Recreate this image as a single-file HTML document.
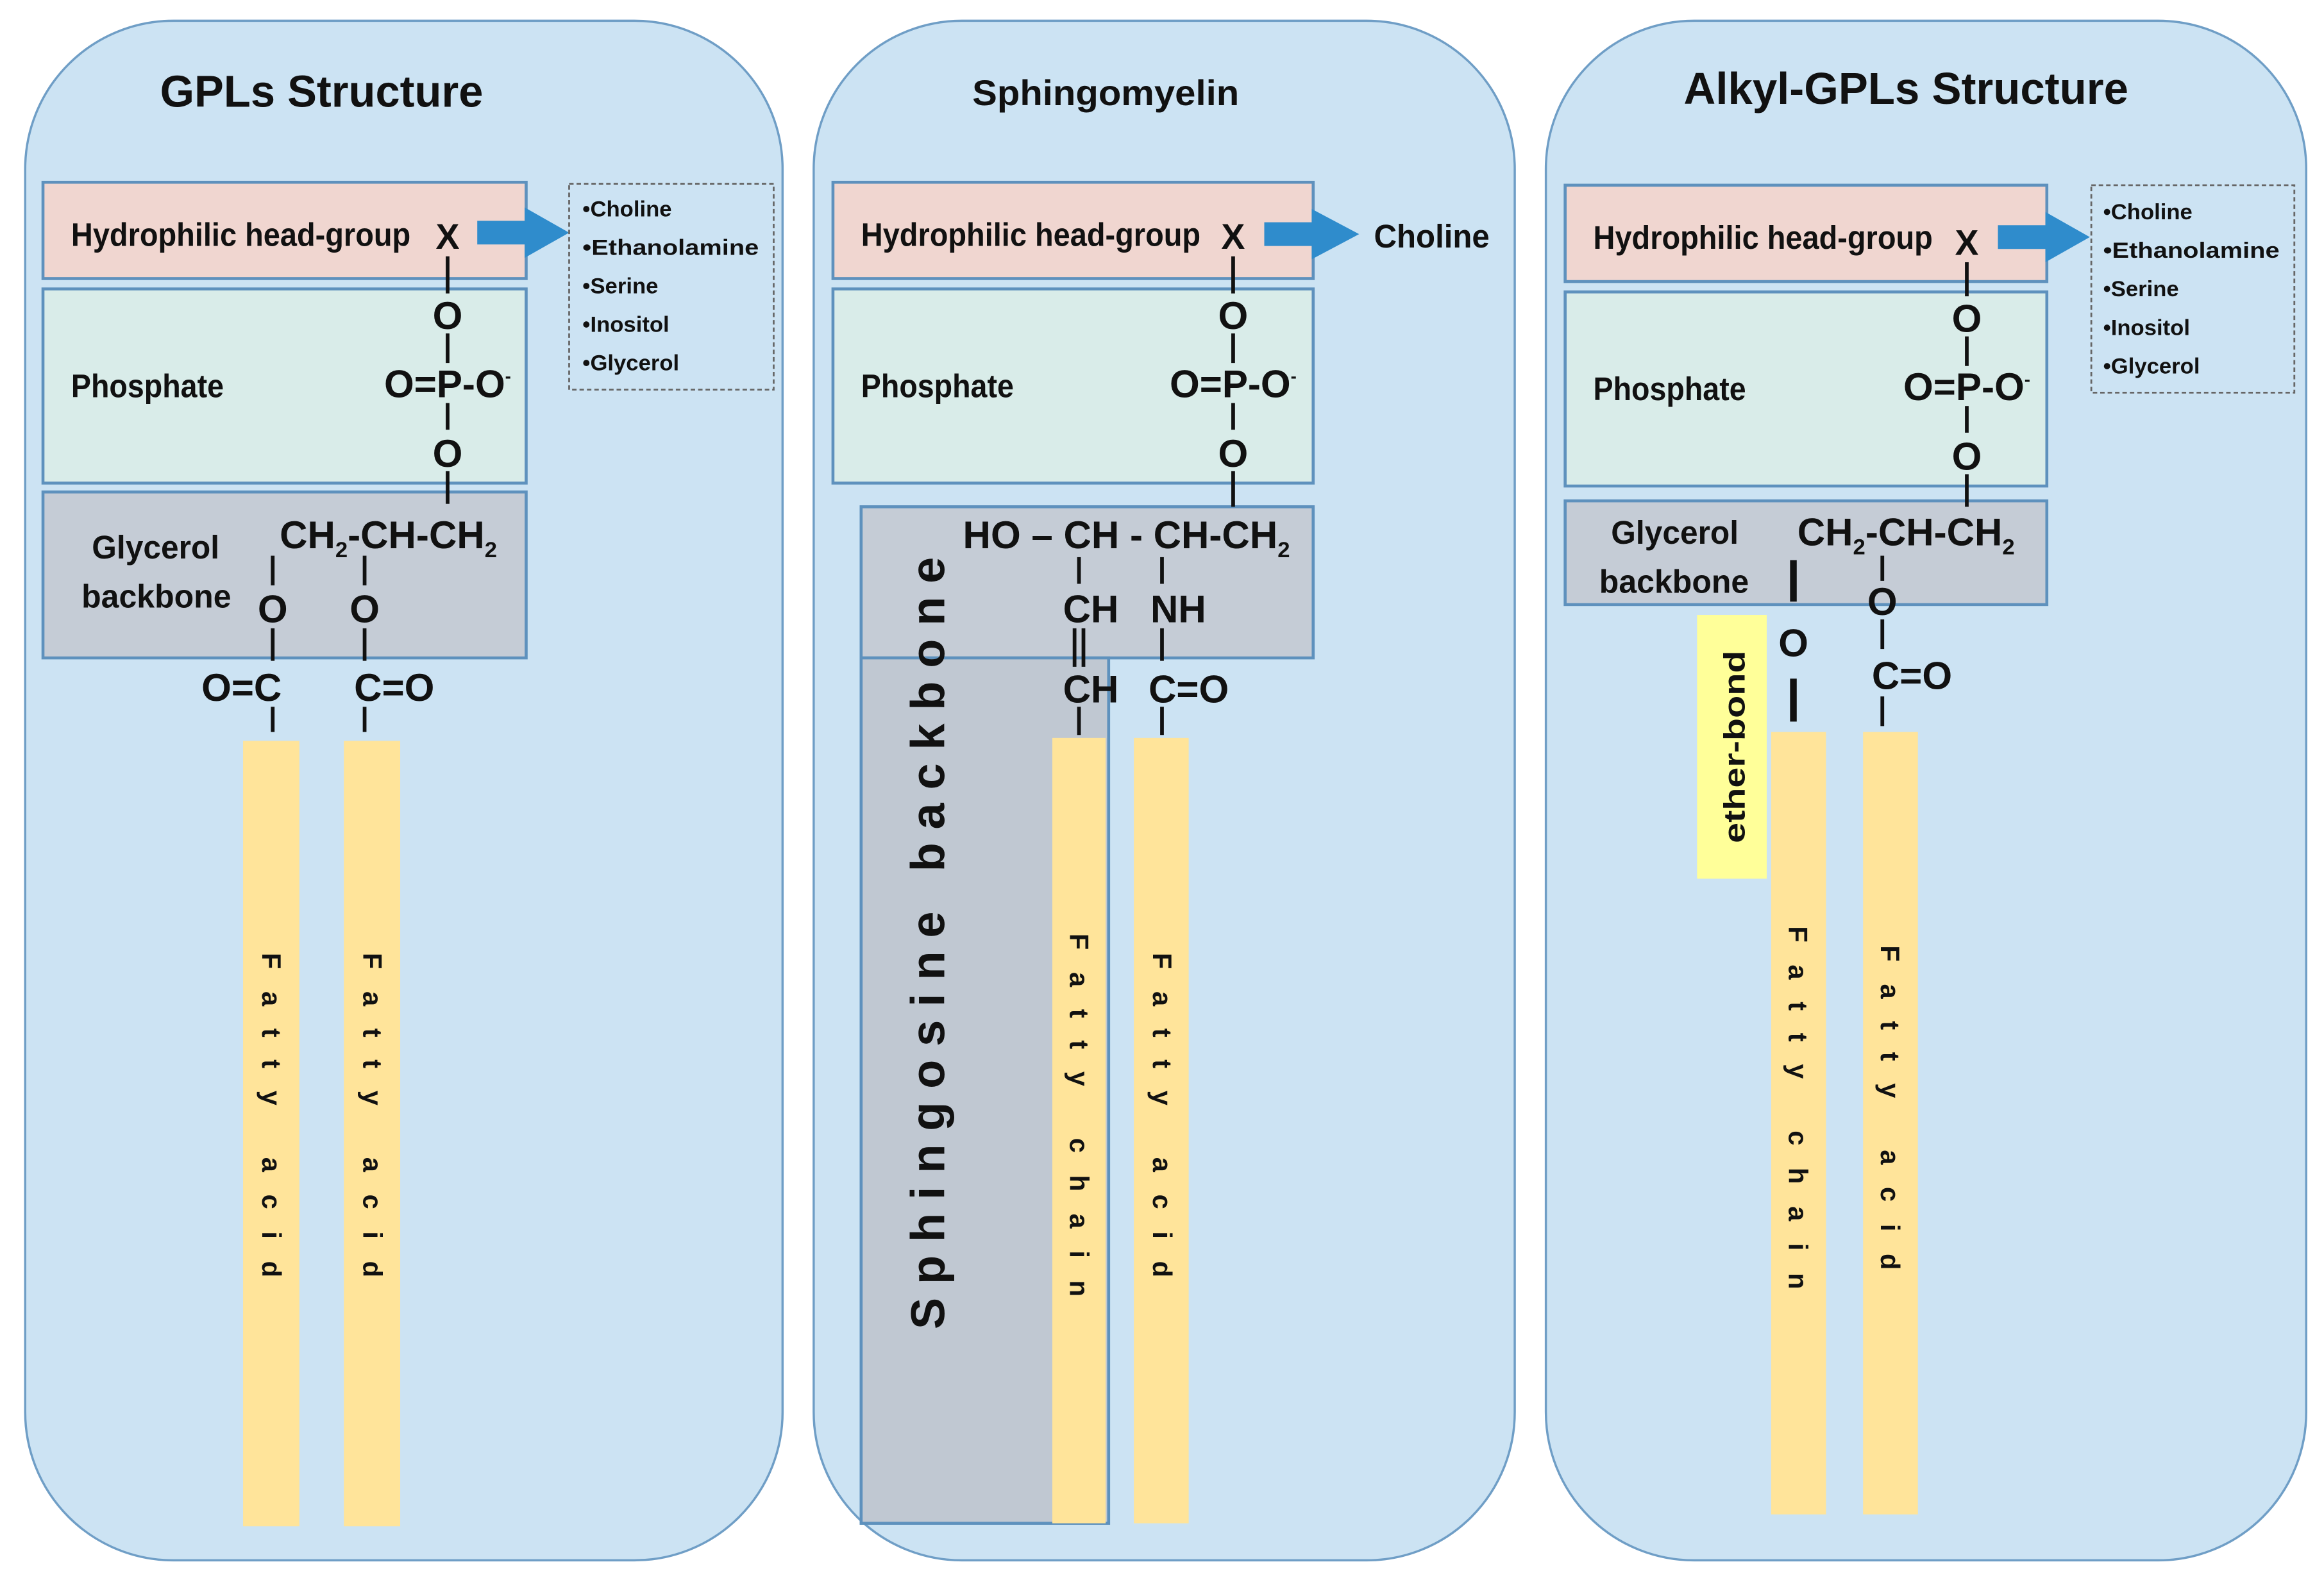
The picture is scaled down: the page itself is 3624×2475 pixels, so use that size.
<!DOCTYPE html>
<html><head><meta charset="utf-8"><style>
html,body{margin:0;padding:0;background:#fff;}
svg{display:block}
text{font-family:"Liberation Sans",sans-serif;font-weight:bold;fill:#111}
.c{font-family:"Liberation Sans",sans-serif;font-weight:bold}
</style></head><body>
<svg width="3624" height="2475" viewBox="0 0 1568 1071" preserveAspectRatio="none" xmlns="http://www.w3.org/2000/svg">
<rect width="1568" height="1071" fill="#fff"/>
<rect x="17" y="14" width="511" height="1039" rx="100" fill="#cce3f3" stroke="#6f9ec6" stroke-width="1.5"/>
<rect x="549" y="14" width="473" height="1039" rx="100" fill="#cce3f3" stroke="#6f9ec6" stroke-width="1.5"/>
<rect x="1043" y="14" width="513" height="1039" rx="100" fill="#cce3f3" stroke="#6f9ec6" stroke-width="1.5"/>

<!-- PANEL 1 -->
<text x="108" y="72" font-size="30" textLength="218" lengthAdjust="spacingAndGlyphs">GPLs Structure</text>
<rect x="29" y="123" width="326" height="65" fill="#f0d6d0" stroke="#5e91bd" stroke-width="2"/>
<text x="48" y="166" font-size="22" textLength="229" lengthAdjust="spacingAndGlyphs">Hydrophilic head-group</text>
<text x="302" y="168" font-size="24" text-anchor="middle">X</text>
<rect x="29" y="195" width="326" height="131" fill="#d9ece9" stroke="#5e91bd" stroke-width="2"/>
<text x="48" y="268" font-size="22" textLength="103" lengthAdjust="spacingAndGlyphs">Phosphate</text>
<rect x="29" y="332" width="326" height="112" fill="#c5ccd6" stroke="#5e91bd" stroke-width="2"/>
<text x="62" y="377" font-size="22" textLength="86" lengthAdjust="spacingAndGlyphs">Glycerol</text>
<text x="55" y="410" font-size="22" textLength="101" lengthAdjust="spacingAndGlyphs">backbone</text>
<polygon points="322,149 354,149 354,140 384,157 354,174 354,165 322,165" fill="#2f8ccc"/>
<rect x="384" y="124" width="138" height="139" fill="none" stroke="#666" stroke-width="1.2" stroke-dasharray="3,2"/>
<g font-size="15"><text x="393" y="146">•Choline</text><text x="393" y="172" textLength="119" lengthAdjust="spacingAndGlyphs">•Ethanolamine</text><text x="393" y="198">•Serine</text><text x="393" y="224">•Inositol</text><text x="393" y="250">•Glycerol</text></g>
<g stroke="#111" stroke-width="2.5">
<line x1="302" y1="173" x2="302" y2="198"/><line x1="302" y1="225" x2="302" y2="245"/><line x1="302" y1="272" x2="302" y2="290"/><line x1="302" y1="318" x2="302" y2="340"/>
<line x1="184" y1="375" x2="184" y2="395"/><line x1="246" y1="375" x2="246" y2="395"/>
<line x1="184" y1="424" x2="184" y2="446"/><line x1="246" y1="424" x2="246" y2="446"/>
<line x1="184" y1="477" x2="184" y2="494"/><line x1="246" y1="477" x2="246" y2="494"/>
</g>
<g font-size="26" text-anchor="middle">
<text x="302" y="222">O</text><text x="302" y="268">O=P-O<tspan font-size="12" dy="-10">-</tspan></text><text x="302" y="315">O</text>
<text x="262" y="370">CH<tspan font-size="15" dy="6">2</tspan><tspan dy="-6">-CH-CH</tspan><tspan font-size="15" dy="6">2</tspan></text>
<text x="184" y="420">O</text><text x="246" y="420">O</text>
<text x="163" y="473">O=C</text><text x="266" y="473">C=O</text>
</g>
<rect x="164" y="500" width="38" height="530" fill="#ffe49a"/>
<rect x="232" y="500" width="38" height="530" fill="#ffe49a"/>
<g font-size="18" letter-spacing="15" text-anchor="middle">
<text transform="translate(177,760) rotate(90)">Fatty acid</text>
<text transform="translate(245,760) rotate(90)">Fatty acid</text>
</g>

<!-- PANEL 2 -->
<text x="656" y="71" font-size="24" textLength="180" lengthAdjust="spacingAndGlyphs">Sphingomyelin</text>
<rect x="562" y="123" width="324" height="65" fill="#f0d6d0" stroke="#5e91bd" stroke-width="2"/>
<text x="581" y="166" font-size="22" textLength="229" lengthAdjust="spacingAndGlyphs">Hydrophilic head-group</text>
<text x="832" y="168" font-size="24" text-anchor="middle">X</text>
<polygon points="853,150 885,150 885,141 917,158 885,175 885,166 853,166" fill="#2f8ccc"/>
<text x="927" y="167" font-size="22" textLength="78" lengthAdjust="spacingAndGlyphs">Choline</text>
<rect x="562" y="195" width="324" height="131" fill="#d9ece9" stroke="#5e91bd" stroke-width="2"/>
<text x="581" y="268" font-size="22" textLength="103" lengthAdjust="spacingAndGlyphs">Phosphate</text>
<rect x="581" y="342" width="305" height="102" fill="#c5ccd6" stroke="#5e91bd" stroke-width="2"/>
<rect x="581" y="444" width="167" height="584" fill="#c0c8d2" stroke="#5e91bd" stroke-width="2"/>
<rect x="710" y="498" width="36" height="530" fill="#ffe49a"/>
<rect x="765" y="498" width="37" height="530" fill="#ffe49a"/>
<g stroke="#111" stroke-width="2.5">
<line x1="832" y1="173" x2="832" y2="198"/><line x1="832" y1="225" x2="832" y2="245"/><line x1="832" y1="272" x2="832" y2="290"/><line x1="832" y1="318" x2="832" y2="342"/>
<line x1="728" y1="376" x2="728" y2="394"/><line x1="784" y1="376" x2="784" y2="394"/>
<line x1="725" y1="424" x2="725" y2="450"/><line x1="731" y1="424" x2="731" y2="450"/>
<line x1="784" y1="424" x2="784" y2="446"/>
<line x1="728" y1="477" x2="728" y2="496"/><line x1="784" y1="477" x2="784" y2="496"/>
</g>
<g font-size="26" text-anchor="middle">
<text x="832" y="222">O</text><text x="832" y="268">O=P-O<tspan font-size="12" dy="-10">-</tspan></text><text x="832" y="315">O</text>
<text x="760" y="370">HO – CH - CH-CH<tspan font-size="15" dy="6">2</tspan></text>
<text x="736" y="420">CH</text><text x="795" y="420">NH</text>
<text x="736" y="474">CH</text><text x="802" y="474">C=O</text>
</g>
<text transform="translate(637,632) rotate(-90)" font-size="32" letter-spacing="9" text-anchor="middle">Sphingosine backbone</text>
<g font-size="18" letter-spacing="15" text-anchor="middle">
<text transform="translate(722,760) rotate(90)">Fatty chain</text>
<text transform="translate(778,760) rotate(90)">Fatty acid</text>
</g>

<!-- PANEL 3 -->
<text x="1136" y="70" font-size="30" textLength="300" lengthAdjust="spacingAndGlyphs">Alkyl-GPLs Structure</text>
<rect x="1056" y="125" width="325" height="65" fill="#f0d6d0" stroke="#5e91bd" stroke-width="2"/>
<text x="1075" y="168" font-size="22" textLength="229" lengthAdjust="spacingAndGlyphs">Hydrophilic head-group</text>
<text x="1327" y="172" font-size="24" text-anchor="middle">X</text>
<polygon points="1348,152 1380,152 1380,143 1410,160 1380,177 1380,168 1348,168" fill="#2f8ccc"/>
<rect x="1411" y="125" width="137" height="140" fill="none" stroke="#666" stroke-width="1.2" stroke-dasharray="3,2"/>
<g font-size="15"><text x="1419" y="148">•Choline</text><text x="1419" y="174" textLength="119" lengthAdjust="spacingAndGlyphs">•Ethanolamine</text><text x="1419" y="200">•Serine</text><text x="1419" y="226">•Inositol</text><text x="1419" y="252">•Glycerol</text></g>
<rect x="1056" y="197" width="325" height="131" fill="#d9ece9" stroke="#5e91bd" stroke-width="2"/>
<text x="1075" y="270" font-size="22" textLength="103" lengthAdjust="spacingAndGlyphs">Phosphate</text>
<rect x="1056" y="338" width="325" height="70" fill="#c5ccd6" stroke="#5e91bd" stroke-width="2"/>
<text x="1087" y="367" font-size="22" textLength="86" lengthAdjust="spacingAndGlyphs">Glycerol</text>
<text x="1079" y="400" font-size="22" textLength="101" lengthAdjust="spacingAndGlyphs">backbone</text>
<rect x="1145" y="415" width="47" height="178" fill="#ffff99"/>
<text transform="translate(1177,504) rotate(-90)" font-size="20" text-anchor="middle" textLength="130" lengthAdjust="spacingAndGlyphs">ether-bond</text>
<rect x="1195" y="494" width="37" height="528" fill="#ffe49a"/>
<rect x="1257" y="494" width="37" height="528" fill="#ffe49a"/>
<g stroke="#111" stroke-width="2.5">
<line x1="1327" y1="177" x2="1327" y2="200"/><line x1="1327" y1="227" x2="1327" y2="247"/><line x1="1327" y1="274" x2="1327" y2="292"/><line x1="1327" y1="320" x2="1327" y2="342"/>
<line x1="1270" y1="375" x2="1270" y2="392"/><line x1="1270" y1="418" x2="1270" y2="438"/><line x1="1270" y1="470" x2="1270" y2="490"/>
</g>
<g stroke="#111" stroke-width="4.5">
<line x1="1210" y1="378" x2="1210" y2="406"/><line x1="1210" y1="458" x2="1210" y2="487"/>
</g>
<g font-size="26" text-anchor="middle">
<text x="1327" y="224">O</text><text x="1327" y="270">O=P-O<tspan font-size="12" dy="-10">-</tspan></text><text x="1327" y="317">O</text>
<text x="1286" y="368">CH<tspan font-size="15" dy="6">2</tspan><tspan dy="-6">-CH-CH</tspan><tspan font-size="15" dy="6">2</tspan></text>
<text x="1270" y="415">O</text>
<text x="1210" y="443">O</text>
<text x="1290" y="465">C=O</text>
</g>
<g font-size="18" letter-spacing="15" text-anchor="middle">
<text transform="translate(1207,755) rotate(90)">Fatty chain</text>
<text transform="translate(1269,755) rotate(90)">Fatty acid</text>
</g>
</svg>
</body></html>
